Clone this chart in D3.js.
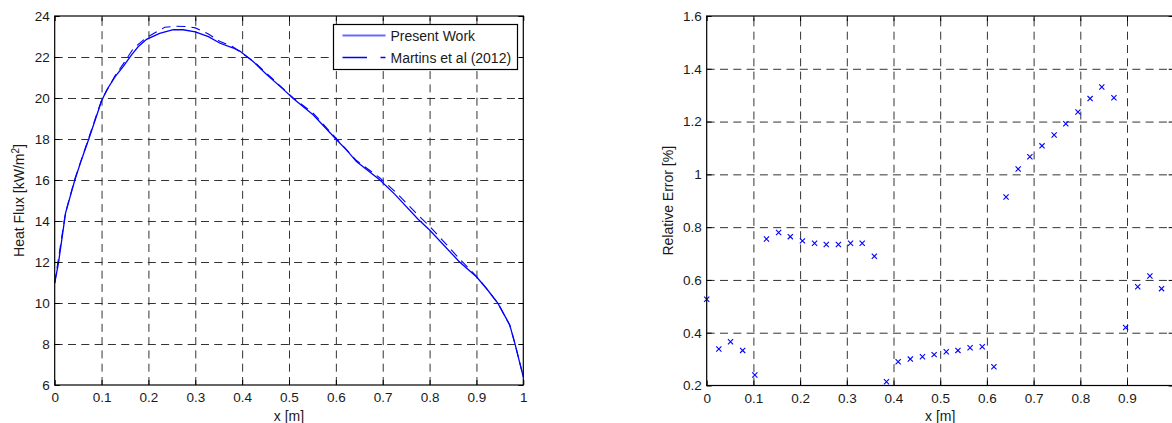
<!DOCTYPE html>
<html>
<head>
<meta charset="utf-8">
<script src="https://cdn.jsdelivr.net/npm/d3@7"></script>
<style>
  body { margin: 0; background: #fff; }
  svg { display: block; font-family: "Liberation Sans", Arial, Helvetica, sans-serif; }
  .tick text { fill: #1a1a1a; }
</style>
</head>
<body>
<svg id="chart" width="1172" height="423"></svg>
<script>
// Left panel: heat flux along the plate
const presentX = [0, 0.008, 0.015, 0.023, 0.033, 0.043, 0.057, 0.072, 0.086, 0.1, 0.111, 0.129, 0.146, 0.164, 0.178,
  0.196, 0.224, 0.253, 0.274, 0.3, 0.328, 0.353, 0.38, 0.395, 0.424, 0.45, 0.488, 0.509, 0.552, 0.602, 0.623,
  0.644, 0.694, 0.726, 0.775, 0.8, 0.864, 0.9, 0.921, 0.946, 0.971, 0.982, 1.0];
const presentY = [10.97, 11.94, 13.07, 14.37, 15.19, 16.0, 16.98, 17.95, 18.9, 19.85, 20.39, 21.04, 21.53, 22.1, 22.5,
  22.86, 23.15, 23.33, 23.33, 23.23, 22.99, 22.67, 22.45, 22.29, 21.77, 21.2, 20.42, 19.98, 19.17, 17.95, 17.46,
  16.9, 16.0, 15.3, 14.1, 13.56, 12.0, 11.28, 10.72, 9.98, 8.93, 8.03, 6.4];

const martinsX = [0, 0.023, 0.043, 0.072, 0.1, 0.129, 0.146, 0.168, 0.196, 0.235, 0.26, 0.285, 0.3, 0.328, 0.353,
  0.38, 0.424, 0.45, 0.509, 0.552, 0.602, 0.644, 0.694, 0.726, 0.775, 0.8, 0.864, 0.9, 0.921, 0.946, 0.971, 0.982, 1.0];
const martinsY = [10.97, 14.4, 16.05, 18.0, 19.9, 21.1, 21.65, 22.42, 22.95, 23.45, 23.5, 23.48, 23.42, 23.12, 22.75,
  22.5, 21.8, 21.25, 20.0, 19.25, 18.0, 16.95, 16.1, 15.45, 14.3, 13.75, 12.15, 11.3, 10.72, 9.98, 8.93, 8.03, 6.4];

// Right panel: relative error between the two
const errX = [0, 0.026, 0.051, 0.077, 0.103, 0.128, 0.154, 0.179, 0.205, 0.231, 0.256, 0.282, 0.308, 0.333,
  0.359, 0.385, 0.41, 0.436, 0.462, 0.487, 0.513, 0.538, 0.564, 0.59, 0.615, 0.641, 0.667, 0.692, 0.718,
  0.744, 0.769, 0.795, 0.821, 0.846, 0.872, 0.897, 0.923, 0.949, 0.974];
const errY = [0.527, 0.338, 0.366, 0.333, 0.24, 0.755, 0.78, 0.764, 0.748, 0.739, 0.734, 0.734, 0.739, 0.739,
  0.69, 0.214, 0.29, 0.30, 0.309, 0.317, 0.328, 0.333, 0.343, 0.347, 0.271, 0.914, 1.02, 1.067, 1.108,
  1.149, 1.192, 1.236, 1.287, 1.331, 1.29, 0.42, 0.574, 0.615, 0.567];

// Tick labels
const xTicks = [0, 0.1, 0.2, 0.3, 0.4, 0.5, 0.6, 0.7, 0.8, 0.9, 1];
const fluxTicks = [6, 8, 10, 12, 14, 16, 18, 20, 22, 24];
const errTicks = [0.2, 0.4, 0.6, 0.8, 1, 1.2, 1.4, 1.6];
const legendLabels = ["Present Work", "Martins et al (2012)"];

const svg = d3.select("#chart");
const blue = "#0000ff";
const fmt = d => String(+d.toFixed(1));
const font = '"Liberation Sans", Arial, Helvetica, sans-serif';

// Draws grid, ticks and frame for one panel, returns the group
function panel(box, x, y, yTicks, xLabelFmt) {
  const g = svg.append("g");
  const w = box.x1 - box.x0, h = box.y1 - box.y0;

  // dashed grid
  g.append("g")
    .attr("transform", `translate(0,${box.y1})`)
    .call(d3.axisBottom(x).tickValues(xTicks.slice(1, -1)).tickSize(-h).tickFormat(""))
    .call(a => a.select(".domain").remove());
  g.append("g")
    .attr("transform", `translate(${box.x0},0)`)
    .call(d3.axisLeft(y).tickValues(yTicks.slice(1, -1)).tickSize(-w).tickFormat(""))
    .call(a => a.select(".domain").remove());
  g.selectAll(".tick line")
    .attr("stroke", "#333")
    .attr("stroke-dasharray", "8,5.3");

  const layer = g.append("g");

  const frame = g.append("g");
  frame.append("g")
    .attr("transform", `translate(0,${box.y1})`)
    .call(d3.axisBottom(x).tickValues(xTicks).tickSizeInner(-5).tickSizeOuter(0).tickPadding(7.5).tickFormat(xLabelFmt));
  frame.append("g")
    .attr("transform", `translate(0,${box.y0})`)
    .call(d3.axisTop(x).tickValues(xTicks).tickSizeInner(-5).tickSizeOuter(0).tickFormat(""));
  frame.append("g")
    .attr("transform", `translate(${box.x0},0)`)
    .call(d3.axisLeft(y).tickValues(yTicks).tickSizeInner(-5).tickSizeOuter(0).tickPadding(5).tickFormat(fmt));
  frame.append("g")
    .attr("transform", `translate(${box.x1},0)`)
    .call(d3.axisRight(y).tickValues(yTicks).tickSizeInner(-5).tickSizeOuter(0).tickFormat(""));
  frame.selectAll(".domain").remove();
  frame.selectAll(".tick line").attr("stroke", "#000");
  frame.selectAll("g").attr("font-family", font).attr("font-size", 13.5);

  frame.append("rect")
    .attr("x", box.x0).attr("y", box.y0)
    .attr("width", w).attr("height", h)
    .attr("fill", "none").attr("stroke", "#000").attr("stroke-width", 1.2);

  svg.append("text")
    .attr("x", (box.x0 + box.x1) / 2).attr("y", 421)
    .attr("text-anchor", "middle").attr("font-size", 14).attr("fill", "#1a1a1a")
    .text("x [m]");

  return layer;
}

// ---- Left: heat flux
const boxL = { x0: 54.7, x1: 523.3, y0: 16, y1: 385 };
const xL = d3.scaleLinear().domain([0, 1]).range([boxL.x0, boxL.x1]);
const yL = d3.scaleLinear().domain([6, 24]).range([boxL.y1, boxL.y0]);
const layerL = panel(boxL, xL, yL, fluxTicks, fmt);

const line = d3.line().x(d => xL(d[0])).y(d => yL(d[1]));
layerL.append("path")
  .datum(d3.zip(martinsX, martinsY))
  .attr("d", line)
  .attr("fill", "none").attr("stroke", blue).attr("stroke-width", 1.1)
  .attr("stroke-dasharray", "9,6");
layerL.append("path")
  .datum(d3.zip(presentX, presentY))
  .attr("d", line)
  .attr("fill", "none").attr("stroke", blue).attr("stroke-width", 1.3);

const yLabL = svg.append("text")
  .attr("transform", `translate(24,${(boxL.y0 + boxL.y1) / 2}) rotate(-90)`)
  .attr("text-anchor", "middle").attr("font-size", 14).attr("fill", "#1a1a1a");
yLabL.append("tspan").text("Heat Flux [kW/m");
yLabL.append("tspan").attr("dy", -5).attr("font-size", 10).text("2");
yLabL.append("tspan").attr("dy", 5).text("]");

// legend
const legend = svg.append("g").attr("transform", "translate(333.5,24.5)");
legend.append("rect")
  .attr("width", 184).attr("height", 45)
  .attr("fill", "#fff").attr("stroke", "#000").attr("stroke-width", 1.2);
const legendItems = legend.selectAll("g.item")
  .data(legendLabels)
  .enter().append("g")
  .attr("class", "item")
  .attr("transform", (d, i) => `translate(0,${11 + i * 22})`);
legendItems.append("line")
  .attr("x1", 9).attr("x2", 52)
  .attr("stroke", (d, i) => i === 0 ? "#6a6aff" : blue)
  .attr("stroke-width", (d, i) => i === 0 ? 1.8 : 1.4)
  .attr("stroke-dasharray", (d, i) => i === 0 ? null : "24.5,13.5");
legendItems.append("text")
  .attr("x", 57).attr("dy", "0.36em")
  .attr("font-size", 14).attr("fill", "#1a1a1a")
  .text(d => d);

// ---- Right: relative error (the frame runs past the window edge, as in the reference)
const boxR = { x0: 706.7, x1: 1173.7, y0: 16, y1: 385.5 };
const xR = d3.scaleLinear().domain([0, 1]).range([boxR.x0, boxR.x1]);
const yR = d3.scaleLinear().domain([0.2, 1.6]).range([boxR.y1, boxR.y0]);
const layerR = panel(boxR, xR, yR, errTicks, d => d === 1 ? "" : fmt(d));

layerR.selectAll("path.mark")
  .data(d3.zip(errX, errY))
  .enter().append("path")
  .attr("class", "mark")
  .attr("transform", d => `translate(${xR(d[0])},${yR(d[1])})`)
  .attr("d", "M-2.6,-2.6L2.6,2.6M-2.6,2.6L2.6,-2.6")
  .attr("stroke", blue).attr("stroke-width", 1.1);

svg.append("text")
  .attr("transform", `translate(673,${(boxR.y0 + boxR.y1) / 2}) rotate(-90)`)
  .attr("text-anchor", "middle").attr("font-size", 14).attr("fill", "#1a1a1a")
  .text("Relative Error [%]");
</script>
</body>
</html>
